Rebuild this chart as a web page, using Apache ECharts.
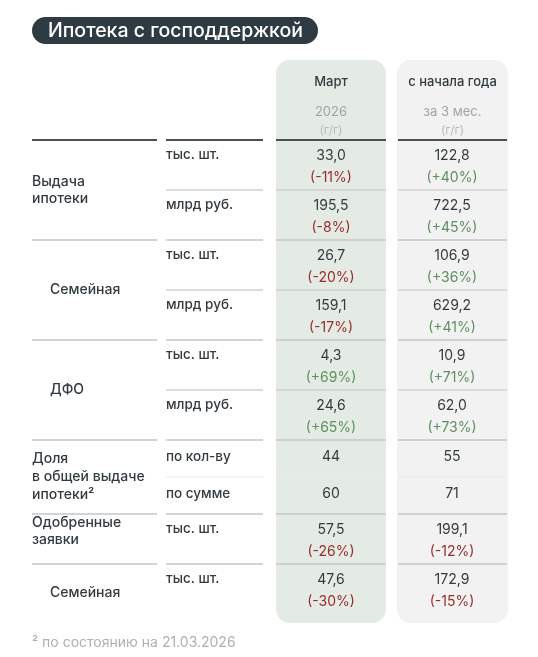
<!DOCTYPE html>
<html><head><meta charset="utf-8">
<script src="https://cdn.jsdelivr.net/npm/echarts@6/dist/echarts.min.js"></script>
<style>html,body{margin:0;padding:0;background:#fff}#c{width:538px;height:657px}</style>
</head><body><div id="c"></div>
<script>
const title = 'Ипотека с господдержкой';
const colHeaders = [['Март','2026','(г/г)'],['с начала года','за 3 мес.','(г/г)']];
const units = ['тыс. шт.','млрд руб.','тыс. шт.','млрд руб.','тыс. шт.','млрд руб.','по кол-ву','по сумме','тыс. шт.','тыс. шт.'];
const marchValues = ['33,0','195,5','26,7','159,1','4,3','24,6','44','60','57,5','47,6'];
const marchChange = ['(-11%)','(-8%)','(-20%)','(-17%)','(+69%)','(+65%)','','','(-26%)','(-30%)'];
const ytdValues = ['122,8','722,5','106,9','629,2','10,9','62,0','55','71','199,1','172,9'];
const ytdChange = ['(+40%)','(+45%)','(+36%)','(+41%)','(+71%)','(+73%)','','','(-12%)','(-15%)'];
const groups = [
  {lines:['Выдача','ипотеки'], rows:2, indent:false},
  {lines:['Семейная'], rows:2, indent:true},
  {lines:['ДФО'], rows:2, indent:true},
  {lines:['Доля','в общей выдаче','ипотеки²'], rows:2, indent:false, compact:true},
  {lines:['Одобренные','заявки'], rows:1, indent:false},
  {lines:['Семейная'], rows:1, indent:true}
];
const footnote = '² по состоянию на 21.03.2026';

const F = 'Inter, "Noto Sans", sans-serif';
const dark = '#333b40', red = '#9a2b2b', green = '#5f8f5f', gray = '#a3a3a3';
const colX = [{x:276,w:110,bg:'#e4ebe4'},{x:397,w:111,bg:'#f2f2f2'}];
const g = [];
function txt(x,y,s,o){g.push({type:'text',x,y,style:Object.assign({text:s,fill:dark,font:'14px '+F,textAlign:'left',textVerticalAlign:'middle'},o||{})});}
function line(x1,x2,y,w,c){g.push({type:'line',shape:{x1,y1:y,x2,y2:y},style:{stroke:c||'#c9c9c9',lineWidth:w||1.5}});}

g.push({type:'rect',shape:{x:32,y:17,width:286,height:27,r:13.5},style:{fill:'#2f3b43'}});
txt(48,31,title,{fill:'#fff',font:'500 19.5px '+F});

colX.forEach(c=>g.push({type:'rect',shape:{x:c.x,y:60,width:c.w,height:563,r:14},style:{fill:c.bg}}));
colX.forEach((c,i)=>{
  const cx=c.x+c.w/2;
  txt(cx,82,colHeaders[i][0],{textAlign:'center',font:'500 13px '+F});
  txt(cx,112,colHeaders[i][1],{textAlign:'center',fill:gray,font:'13px '+F});
  txt(cx,130,colHeaders[i][2],{textAlign:'center',fill:'#bbb',font:'12px '+F});
});
const segs=[[32,157],[166,263],[276,386],[398,507]];
const headerY=140;
segs.forEach(s=>line(s[0],s[1],headerY,2,'#4a4f52'));

let y=headerY, r=0;
groups.forEach((gr,gi)=>{
  const h = gr.compact?37:(gr.rows===1 && gi===groups.length-1?57:50);
  const top=y;
  for(let k=0;k<gr.rows;k++){
    const ry=y;
    const vy = gr.compact? ry+17 : ry+16;
    txt(166, gr.compact?ry+17:ry+15, units[r], {font:'500 13.5px '+F});
    txt(331, vy, marchValues[r], {textAlign:'center'});
    txt(452, vy, ytdValues[r], {textAlign:'center'});
    if(marchChange[r]) txt(331, ry+38, marchChange[r], {textAlign:'center',fill:marchChange[r].includes('-')?red:green});
    if(ytdChange[r]) txt(452, ry+38, ytdChange[r], {textAlign:'center',fill:ytdChange[r].includes('-')?red:green});
    y+=h; r++;
    if(k<gr.rows-1){
      const c = gr.compact?'#ececec':'#d0d0d0';
      segs.slice(1).forEach(s=>line(s[0],s[1],y,gr.compact?1:1.5,c));
    }
  }
  if(gi<groups.length-1) segs.forEach(s=>line(s[0],s[1],y,1.5,'#c6c6c6'));
  const mid=(top+y)/2, lh=gr.compact?18:17;
  const n=gr.lines.length;
  const off = gr.compact?0:(gr.rows===1&&!gr.indent? -8 : 0);
  gr.lines.forEach((s,i)=>txt(gr.indent?50:32, mid+off+(i-(n-1)/2)*lh, s, {font:'500 14px '+F}));
});
txt(32,643,footnote,{fill:'#b0b0b0',font:'14px '+F});

const chart = echarts.init(document.getElementById('c'),null,{renderer:'canvas'});
chart.setOption({animation:false,graphic:g});
</script></body></html>
